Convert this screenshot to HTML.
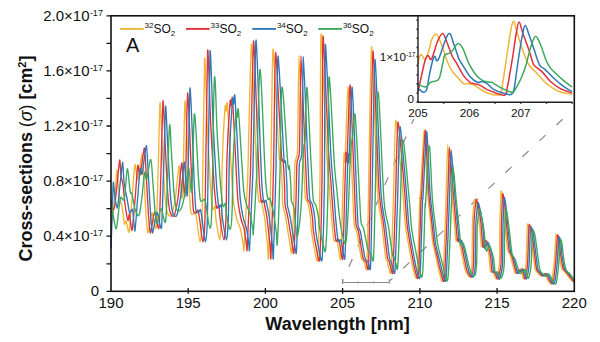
<!DOCTYPE html><html><head><meta charset="utf-8"><style>html,body{margin:0;padding:0;background:#fff;width:600px;height:342px;overflow:hidden}svg{display:block}</style></head><body><svg width="600" height="342" viewBox="0 0 600 342"><g stroke="#8a8a8a" stroke-width="1.2" fill="none"><line x1="342.5" y1="281.4" x2="413.8" y2="119.0" stroke-dasharray="8.5 13.8" stroke-dashoffset="6.3"/><line x1="389.2" y1="281.4" x2="562.6" y2="119.2" stroke-dasharray="8.5 14.8" stroke-dashoffset="4"/><path d="M342.5,282.5 H389.2 M342.5,279 V284 M389.2,279 V284 M358,281.5 V283.5 M373.7,281.5 V283.5" stroke-width="1"/></g><g fill="none" stroke-width="1.35" stroke-linejoin="round" stroke-linecap="round"><path d="M111.0,228.0 C111.2,226.2 113.1,213.2 113.5,210.0 C113.9,206.8 114.7,200.0 115.0,196.0 C115.3,192.0 116.5,170.8 116.8,170.0 C117.1,169.2 118.2,185.0 118.5,188.0 C118.8,191.0 119.7,198.2 120.0,200.0 C120.3,201.8 121.6,203.6 122.0,206.0 C122.4,208.4 124.0,222.5 124.4,224.0 C124.8,225.5 125.6,220.2 126.1,221.0 C126.6,221.8 128.5,233.8 129.0,232.2 C129.5,230.6 130.9,211.8 131.5,205.0 C132.1,198.2 134.3,167.2 134.9,164.7 C135.5,162.2 136.9,180.9 137.6,179.9 C138.3,178.8 141.5,153.6 142.2,154.0 C142.9,154.4 143.8,177.2 144.2,183.4 C144.6,189.6 145.7,211.1 146.1,216.1 C146.5,221.0 147.5,233.3 148.0,233.0 C148.6,232.7 151.1,213.3 151.9,212.8 C152.7,212.2 155.5,232.1 156.2,228.0 C156.8,223.8 157.7,183.7 158.1,171.2 C158.5,158.7 159.6,106.0 160.0,103.0 C160.4,100.0 161.6,132.9 162.0,141.6 C162.5,150.4 164.1,183.7 164.6,190.7 C165.1,197.8 166.4,209.7 167.1,212.2 C167.8,214.7 170.4,217.3 171.2,216.0 C172.0,214.7 174.6,202.5 175.2,198.9 C175.9,195.3 176.9,183.3 177.3,180.0 C177.7,176.7 178.7,166.1 179.0,165.9 C179.3,165.8 180.0,175.2 180.3,178.5 C180.6,181.7 181.8,199.1 182.1,198.6 C182.3,198.0 182.9,182.9 183.2,173.2 C183.5,163.4 184.5,102.9 185.0,101.0 C185.5,99.1 187.4,146.0 187.8,154.6 C188.3,163.1 188.8,180.9 189.1,186.7 C189.4,192.4 190.4,209.5 190.8,212.2 C191.2,215.0 192.8,214.3 193.2,214.2 C193.7,214.1 194.8,210.9 195.2,211.4 C195.5,211.9 196.2,216.0 196.7,219.0 C197.1,222.1 199.4,242.0 199.9,242.0 C200.4,242.0 201.6,237.4 202.1,219.1 C202.5,200.8 204.1,68.4 204.6,59.0 C205.1,49.6 206.7,113.2 207.2,125.0 C207.8,136.9 209.6,171.0 210.0,177.7 C210.3,184.4 210.6,188.9 210.9,192.1 C211.2,195.2 212.3,207.9 212.7,209.3 C213.1,210.7 214.7,205.4 215.0,206.4 C215.3,207.4 215.5,215.5 215.9,218.9 C216.4,222.2 219.0,240.0 219.6,240.0 C220.1,240.0 221.1,226.8 221.4,218.9 C221.7,210.9 221.9,171.9 222.3,160.7 C222.7,149.4 224.7,111.6 225.1,106.6 C225.5,101.7 226.0,111.3 226.2,111.0 C226.4,110.8 226.9,98.1 227.4,104.0 C227.9,109.9 230.7,159.7 231.3,169.6 C231.9,179.4 233.0,197.3 233.6,202.4 C234.1,207.4 236.3,217.1 237.0,219.8 C237.7,222.4 239.8,225.9 240.4,228.5 C241.1,231.0 242.9,243.1 243.3,245.1 C243.7,247.1 243.7,254.5 244.1,248.5 C244.5,242.5 246.9,192.8 247.3,185.2 C247.7,177.6 247.4,186.5 247.9,172.4 C248.3,158.3 250.6,46.2 251.4,44.0 C252.2,41.8 255.1,136.8 255.7,150.8 C256.3,164.9 256.8,179.3 257.2,184.4 C257.5,189.5 258.8,200.6 259.2,202.2 C259.6,203.7 260.8,199.5 261.1,200.0 C261.5,200.5 262.2,205.1 262.6,206.9 C262.9,208.7 264.1,214.0 264.6,217.8 C265.1,221.6 267.1,241.0 267.5,244.9 C267.9,248.8 268.1,264.6 268.5,257.0 C268.8,249.4 270.5,189.6 270.9,168.8 C271.4,148.0 272.2,50.4 273.0,49.0 C273.8,47.6 278.3,143.8 279.0,154.8 C279.8,165.8 280.3,156.1 280.6,158.9 C280.9,161.8 281.9,178.8 282.1,183.3 C282.3,187.7 282.5,201.0 282.6,203.5 C282.8,206.0 283.3,207.2 283.6,208.6 C284.0,210.0 285.1,214.3 285.7,217.7 C286.3,221.2 289.2,239.5 289.8,242.9 C290.4,246.4 291.4,256.8 291.8,252.5 C292.2,248.2 293.6,208.9 293.9,199.9 C294.2,191.0 294.6,167.9 294.9,162.9 C295.3,157.9 297.1,160.8 297.5,150.1 C297.9,139.4 298.4,56.0 299.0,56.0 C299.6,56.0 302.4,137.2 303.0,150.0 C303.6,162.8 304.2,179.1 304.5,183.9 C304.8,188.8 305.1,197.0 305.5,198.9 C305.9,200.9 307.5,201.5 308.0,203.4 C308.5,205.3 310.2,215.2 310.5,217.8 C310.8,220.5 310.9,226.7 311.3,229.9 C311.7,233.1 314.1,247.0 314.7,249.9 C315.3,252.9 317.2,266.3 317.7,259.2 C318.2,252.1 319.7,201.9 320.0,179.3 C320.3,156.8 320.4,37.0 321.0,34.0 C321.6,31.0 325.7,134.5 326.5,149.5 C327.3,164.4 328.5,176.9 329.0,183.8 C329.5,190.6 331.0,212.3 331.5,218.0 C332.0,223.6 333.4,238.4 334.0,240.6 C334.6,242.8 336.3,238.1 337.0,240.0 C337.7,241.8 340.1,262.9 340.7,258.9 C341.2,254.9 342.2,210.9 342.5,200.4 C342.8,189.9 343.8,157.8 344.0,153.9 C344.2,149.9 344.6,167.6 345.0,160.9 C345.4,154.2 347.4,88.0 348.0,87.0 C348.6,86.0 350.6,140.5 351.1,150.8 C351.5,161.2 352.3,183.0 352.6,190.4 C352.9,197.7 353.7,220.0 354.1,224.1 C354.5,228.2 356.0,228.1 356.7,231.5 C357.4,234.9 360.5,254.9 361.3,257.9 C362.0,261.0 363.8,261.0 364.4,261.9 C364.9,262.9 366.5,274.1 366.9,267.8 C367.3,261.5 368.0,221.0 368.4,198.9 C368.9,176.8 370.6,47.7 371.5,46.7 C372.4,45.7 376.3,170.9 377.3,188.6 C378.4,206.2 380.9,216.3 381.7,223.3 C382.5,230.2 385.1,254.1 385.6,257.8 C386.1,261.6 386.7,259.8 387.1,260.9 C387.4,261.9 388.6,267.5 389.0,268.5 C389.4,269.5 390.5,277.9 390.9,271.0 C391.4,264.1 392.9,214.2 393.4,199.1 C393.9,184.1 394.9,121.3 395.8,120.3 C396.7,119.3 401.6,178.9 402.6,189.3 C403.5,199.6 404.5,217.7 405.2,223.6 C405.8,229.6 408.5,244.2 409.3,248.8 C410.2,253.5 412.7,267.2 413.5,270.0 C414.3,272.7 416.5,283.2 417.1,276.2 C417.8,269.2 419.4,207.8 419.7,199.9 C420.0,191.9 419.8,203.3 420.2,196.4 C420.7,189.4 423.5,131.0 424.2,130.3 C424.9,129.6 426.7,180.4 427.3,189.8 C428.0,199.1 430.2,218.5 430.7,223.7 C431.3,229.0 432.1,238.9 432.7,242.3 C433.2,245.7 435.4,254.7 436.1,257.8 C436.8,260.9 438.8,270.9 439.5,272.9 C440.2,275.0 442.2,287.0 442.9,278.5 C443.6,270.0 445.9,201.8 446.3,188.4 C446.8,175.0 447.3,144.7 447.8,144.7 C448.3,144.7 450.7,180.6 451.3,188.5 C452.0,196.3 453.9,217.9 454.4,223.1 C454.8,228.3 455.6,238.9 455.9,240.4 C456.2,242.0 457.1,238.5 457.4,238.4 C457.7,238.4 458.5,238.7 458.9,240.0 C459.3,241.3 460.7,248.6 461.4,251.7 C462.1,254.8 464.6,268.4 465.4,270.9 C466.3,273.5 469.3,277.7 470.0,277.0 C470.6,276.3 471.7,269.2 472.0,263.9 C472.2,258.6 472.4,228.5 472.5,223.6 C472.6,218.7 472.7,217.0 473.0,214.5 C473.2,212.1 474.4,199.5 474.9,199.0 C475.3,198.5 477.0,206.9 477.5,209.4 C477.9,211.8 479.1,219.7 479.5,223.4 C479.9,227.1 481.0,245.0 481.5,246.6 C482.0,248.2 484.0,240.1 484.5,239.9 C485.0,239.7 486.0,242.8 486.5,244.4 C486.9,246.0 488.6,252.8 488.9,255.5 C489.3,258.2 490.0,269.7 490.4,271.3 C490.8,273.0 492.3,271.1 492.9,271.8 C493.5,272.6 495.8,279.8 496.4,279.0 C497.1,278.2 499.1,269.2 499.4,263.5 C499.8,257.9 499.7,229.5 499.9,222.2 C500.1,215.0 500.8,193.5 501.1,191.3 C501.4,189.1 502.5,197.5 502.9,200.6 C503.3,203.7 504.5,217.4 504.9,222.3 C505.4,227.2 506.9,245.9 507.4,249.1 C508.0,252.4 509.5,252.8 510.2,255.2 C511.0,257.5 514.2,271.4 515.0,272.9 C515.7,274.3 517.5,269.9 518.0,269.8 C518.4,269.6 519.2,271.4 519.5,271.3 C519.8,271.2 520.6,268.0 521.0,268.8 C521.4,269.5 523.0,279.2 523.5,279.0 C524.0,278.8 525.5,269.3 525.8,266.8 C526.1,264.2 526.3,257.7 526.5,253.5 C526.7,249.3 527.1,226.9 527.5,224.5 C527.9,222.1 529.5,226.2 530.0,229.1 C530.5,232.0 532.5,249.6 533.0,253.6 C533.5,257.5 534.5,266.9 535.0,268.8 C535.5,270.7 536.9,271.7 537.5,272.4 C538.1,273.1 540.3,275.8 541.0,275.9 C541.7,276.0 543.8,272.9 544.5,273.4 C545.2,273.8 547.3,279.5 548.0,280.5 C548.7,281.5 550.9,285.2 551.5,283.5 C552.1,281.8 553.5,268.6 554.0,263.8 C554.5,258.9 555.6,237.4 556.0,235.0 C556.4,232.6 557.4,237.7 557.7,239.6 C558.0,241.4 558.6,250.9 559.0,253.7 C559.4,256.5 560.9,265.9 561.5,267.9 C562.1,269.8 564.5,271.7 565.5,272.9 C566.5,274.1 570.3,279.1 571.0,280.0 C571.7,280.8 572.5,281.3 572.8,281.5 C573.1,281.7 574.1,281.5 574.3,281.5" stroke="#EFB635"/><path d="M111.2,212.0 C111.5,211.5 113.9,209.7 114.5,207.0 C115.1,204.3 116.5,189.7 117.0,185.0 C117.5,180.3 119.3,160.9 119.7,160.0 C120.1,159.1 120.7,173.5 121.0,176.0 C121.3,178.5 122.6,182.2 123.0,185.0 C123.4,187.8 124.5,200.4 125.0,204.0 C125.5,207.6 127.5,219.5 128.0,220.5 C128.4,221.5 129.1,213.0 129.5,214.0 C129.9,215.0 131.4,231.9 132.0,230.5 C132.6,229.1 134.4,206.5 135.0,200.0 C135.6,193.5 137.3,168.0 137.8,165.5 C138.3,163.0 139.3,176.8 140.0,175.0 C140.7,173.2 143.8,147.5 144.4,148.0 C145.1,148.5 146.1,173.3 146.5,180.0 C146.9,186.7 148.1,209.7 148.5,215.0 C148.9,220.3 149.9,233.3 150.5,233.0 C151.1,232.7 153.7,212.5 154.5,212.0 C155.3,211.5 158.3,232.2 159.0,228.0 C159.7,223.8 160.6,182.7 161.0,170.0 C161.4,157.3 162.6,104.0 163.0,101.0 C163.4,98.0 164.6,131.1 165.0,140.0 C165.4,148.9 167.0,182.8 167.5,190.0 C168.0,197.2 169.3,209.4 170.0,212.0 C170.7,214.6 173.2,217.4 174.0,216.0 C174.8,214.6 177.4,201.8 178.0,198.0 C178.6,194.2 179.6,181.5 180.0,178.0 C180.4,174.5 181.4,163.2 181.7,163.0 C182.0,162.8 182.7,172.6 183.0,176.0 C183.3,179.4 184.4,197.6 184.7,197.0 C185.0,196.4 185.5,180.4 185.8,170.0 C186.1,159.6 187.1,95.0 187.6,93.0 C188.1,91.0 190.1,140.9 190.5,150.0 C190.9,159.1 191.5,177.9 191.8,184.0 C192.1,190.1 193.1,208.1 193.5,211.0 C193.9,213.9 195.6,213.1 196.0,213.0 C196.4,212.9 197.7,209.5 198.0,210.0 C198.3,210.5 199.0,214.8 199.5,218.0 C200.0,221.2 202.2,242.0 202.8,242.0 C203.4,242.0 204.5,237.1 205.0,218.0 C205.5,198.9 207.0,60.8 207.6,51.0 C208.2,41.2 209.9,107.6 210.5,120.0 C211.1,132.4 213.1,168.0 213.5,175.0 C213.9,182.0 214.2,186.7 214.5,190.0 C214.8,193.3 216.1,206.5 216.5,208.0 C216.9,209.5 218.7,204.0 219.0,205.0 C219.3,206.0 219.5,214.5 220.0,218.0 C220.5,221.5 223.4,240.0 224.0,240.0 C224.6,240.0 225.7,226.2 226.0,218.0 C226.3,209.8 226.6,169.2 227.0,157.5 C227.4,145.8 229.7,106.6 230.1,101.4 C230.5,96.2 231.1,106.3 231.3,106.0 C231.6,105.7 232.1,92.6 232.6,98.7 C233.1,104.8 235.5,156.8 236.0,167.0 C236.5,177.2 237.5,195.8 238.0,201.0 C238.5,206.2 240.4,216.3 241.0,219.0 C241.6,221.7 243.4,225.4 244.0,228.0 C244.6,230.6 246.2,242.9 246.5,245.0 C246.8,247.1 246.8,254.6 247.2,248.5 C247.5,242.4 249.7,191.8 250.0,184.0 C250.3,176.2 250.1,185.3 250.5,171.0 C250.9,156.7 252.8,43.1 253.6,41.0 C254.3,38.9 257.4,135.7 258.0,150.0 C258.6,164.3 259.1,178.8 259.5,184.0 C259.9,189.2 261.1,200.4 261.5,202.0 C261.9,203.6 263.1,199.5 263.5,200.0 C263.9,200.5 264.6,205.2 265.0,207.0 C265.4,208.8 266.5,214.2 267.0,218.0 C267.5,221.8 269.6,241.1 270.0,245.0 C270.4,248.9 270.6,264.5 271.0,257.0 C271.4,249.5 273.0,190.5 273.5,170.0 C274.0,149.5 274.8,53.8 275.6,52.4 C276.4,51.0 280.8,145.2 281.5,156.0 C282.2,166.8 282.7,157.2 283.0,160.0 C283.3,162.8 284.3,179.6 284.5,184.0 C284.7,188.4 284.9,201.5 285.0,204.0 C285.1,206.5 285.7,207.6 286.0,209.0 C286.3,210.4 287.4,214.6 288.0,218.0 C288.6,221.4 291.4,239.6 292.0,243.0 C292.6,246.4 293.6,256.8 294.0,252.5 C294.4,248.2 295.7,208.9 296.0,200.0 C296.3,191.1 296.6,168.0 297.0,163.0 C297.4,158.0 299.1,160.7 299.5,150.0 C299.9,139.3 300.4,55.6 301.0,55.6 C301.6,55.6 304.4,137.2 305.0,150.0 C305.6,162.8 306.2,179.1 306.5,184.0 C306.8,188.9 307.1,197.1 307.5,199.0 C307.9,200.9 309.5,201.6 310.0,203.5 C310.5,205.4 312.2,215.3 312.5,218.0 C312.8,220.7 312.9,226.8 313.3,230.0 C313.7,233.2 316.1,247.1 316.7,250.0 C317.3,252.9 319.2,266.2 319.7,259.2 C320.2,252.2 321.7,202.3 322.0,180.0 C322.3,157.7 322.4,39.0 323.0,36.0 C323.6,33.0 327.7,135.2 328.5,150.0 C329.3,164.8 330.5,177.2 331.0,184.0 C331.5,190.8 333.0,212.3 333.5,218.0 C334.0,223.7 335.4,238.4 336.0,240.6 C336.6,242.8 338.3,238.1 339.0,239.9 C339.7,241.7 342.1,262.9 342.7,258.9 C343.2,254.9 344.2,210.6 344.5,200.0 C344.8,189.4 345.8,157.0 346.0,153.0 C346.2,149.0 346.6,166.8 347.0,160.0 C347.4,153.2 349.4,86.0 350.0,85.0 C350.6,84.0 352.6,139.5 353.0,150.0 C353.4,160.5 354.2,182.6 354.5,190.0 C354.8,197.4 355.6,219.8 356.0,224.0 C356.4,228.2 357.8,228.1 358.5,231.5 C359.2,234.9 362.2,254.9 363.0,258.0 C363.8,261.1 365.4,261.0 366.0,262.0 C366.6,263.0 368.1,274.0 368.5,267.8 C368.9,261.6 369.6,221.7 370.0,200.0 C370.4,178.3 372.1,52.0 373.0,51.0 C373.9,50.0 377.9,172.7 379.0,190.0 C380.1,207.3 382.6,217.2 383.5,224.0 C384.4,230.8 386.9,254.3 387.5,258.0 C388.1,261.7 388.6,259.9 389.0,261.0 C389.4,262.1 390.6,267.5 391.0,268.5 C391.4,269.5 392.6,277.9 393.0,271.0 C393.4,264.1 395.0,214.9 395.5,200.0 C396.0,185.1 397.1,123.0 398.0,122.0 C398.9,121.0 403.6,179.8 404.5,190.0 C405.4,200.2 406.4,218.1 407.0,224.0 C407.6,229.9 410.2,244.4 411.0,249.0 C411.8,253.6 414.2,267.3 415.0,270.0 C415.8,272.7 417.9,283.2 418.5,276.2 C419.1,269.2 420.7,208.0 421.0,200.0 C421.3,192.0 421.1,203.5 421.5,196.5 C421.9,189.5 424.6,131.0 425.3,130.3 C426.0,129.7 427.8,180.6 428.5,190.0 C429.2,199.4 431.4,218.8 432.0,224.0 C432.6,229.2 433.4,239.1 434.0,242.5 C434.6,245.9 436.8,254.9 437.5,258.0 C438.2,261.1 440.3,270.9 441.0,273.0 C441.7,275.1 443.8,286.8 444.5,278.5 C445.2,270.2 447.5,203.1 448.0,190.0 C448.5,176.9 449.0,147.2 449.5,147.2 C450.0,147.2 452.4,182.3 453.0,190.0 C453.6,197.7 455.6,218.9 456.0,224.0 C456.4,229.1 457.2,239.5 457.5,241.0 C457.8,242.5 458.7,239.1 459.0,239.0 C459.3,238.9 460.1,239.2 460.5,240.5 C460.9,241.8 462.4,248.9 463.0,252.0 C463.6,255.1 466.1,268.5 467.0,271.0 C467.9,273.5 470.9,277.7 471.5,277.0 C472.1,276.3 473.2,269.3 473.5,264.0 C473.8,258.7 473.9,228.9 474.0,224.0 C474.1,219.1 474.3,217.4 474.5,215.0 C474.7,212.6 475.9,200.0 476.4,199.5 C476.8,199.0 478.5,207.6 479.0,210.0 C479.5,212.4 480.6,220.3 481.0,224.0 C481.4,227.7 482.5,245.3 483.0,247.0 C483.5,248.7 485.5,240.7 486.0,240.5 C486.5,240.3 487.6,243.4 488.0,245.0 C488.4,246.6 490.1,253.3 490.5,256.0 C490.9,258.6 491.6,269.9 492.0,271.5 C492.4,273.1 493.9,271.2 494.5,272.0 C495.1,272.8 497.4,279.8 498.0,279.0 C498.6,278.2 500.6,269.5 501.0,264.0 C501.4,258.5 501.3,231.0 501.5,224.0 C501.7,217.0 502.4,196.2 502.7,194.1 C503.0,192.0 504.1,200.0 504.5,203.0 C504.9,206.0 506.1,219.3 506.5,224.0 C506.9,228.7 508.5,246.8 509.0,250.0 C509.5,253.2 511.1,253.5 511.8,255.8 C512.5,258.1 515.7,271.6 516.5,273.0 C517.3,274.4 519.0,270.1 519.5,270.0 C520.0,269.9 520.7,271.6 521.0,271.5 C521.3,271.4 522.1,268.2 522.5,269.0 C522.9,269.8 524.5,279.2 525.0,279.0 C525.5,278.8 527.0,269.5 527.3,267.0 C527.6,264.5 527.8,258.1 528.0,254.0 C528.2,249.8 528.6,227.9 529.0,225.5 C529.4,223.1 531.0,227.2 531.5,230.0 C532.0,232.8 534.0,250.1 534.5,254.0 C535.0,257.9 536.0,267.1 536.5,269.0 C537.0,270.9 538.4,271.8 539.0,272.5 C539.6,273.2 541.8,275.9 542.5,276.0 C543.2,276.1 545.3,273.1 546.0,273.5 C546.7,273.9 548.8,279.5 549.5,280.5 C550.2,281.5 552.4,285.1 553.0,283.5 C553.6,281.9 555.0,268.8 555.5,264.0 C556.0,259.2 557.1,237.9 557.5,235.5 C557.9,233.1 558.9,238.2 559.2,240.0 C559.5,241.8 560.1,251.2 560.5,254.0 C560.9,256.8 562.4,266.1 563.0,268.0 C563.6,269.9 566.0,271.8 567.0,273.0 C568.0,274.2 571.8,279.1 572.5,280.0 C573.2,280.9 574.1,281.4 574.3,281.5" stroke="#E0303A"/><path d="M111.0,248.0 C111.1,244.7 112.0,221.6 112.2,215.0 C112.4,208.4 113.0,183.9 113.3,182.2 C113.6,180.5 114.6,195.4 115.0,198.0 C115.4,200.6 117.0,208.8 117.4,208.0 C117.9,207.2 119.0,194.6 119.5,190.0 C120.0,185.4 122.1,163.1 122.6,162.3 C123.0,161.5 123.5,178.2 124.0,182.0 C124.5,185.8 126.7,196.9 127.3,200.0 C127.9,203.1 129.1,212.0 129.6,212.9 C130.1,213.8 132.1,207.6 132.6,209.4 C133.1,211.2 134.4,231.9 134.9,231.0 C135.4,230.1 137.0,206.2 137.5,200.0 C138.0,193.8 139.7,171.4 140.2,168.8 C140.7,166.2 141.5,176.3 142.1,174.0 C142.8,171.7 145.8,145.1 146.4,145.6 C147.0,146.1 148.1,172.0 148.6,178.9 C149.0,185.8 150.2,209.4 150.6,214.8 C151.0,220.2 152.1,233.3 152.7,233.0 C153.3,232.7 156.0,212.7 156.8,212.2 C157.7,211.7 160.8,232.0 161.5,228.0 C162.1,223.9 163.1,184.2 163.5,172.0 C164.0,159.8 165.2,109.3 165.6,106.4 C166.0,103.5 167.1,134.6 167.6,143.1 C168.0,151.5 169.6,184.0 170.1,190.9 C170.6,197.8 171.9,209.6 172.5,212.1 C173.2,214.7 175.7,217.4 176.5,216.0 C177.3,214.6 179.9,201.7 180.5,197.9 C181.1,194.0 182.1,181.1 182.5,177.5 C182.8,173.9 183.9,162.2 184.2,161.9 C184.4,161.7 185.1,171.5 185.4,174.9 C185.7,178.4 186.8,196.9 187.1,196.2 C187.4,195.5 187.9,179.1 188.2,168.2 C188.5,157.4 189.5,90.1 190.0,88.0 C190.5,85.9 192.5,138.0 192.9,147.5 C193.3,156.9 193.9,176.3 194.2,182.6 C194.5,188.9 195.5,207.4 195.9,210.4 C196.3,213.4 198.0,212.6 198.4,212.5 C198.8,212.5 200.1,209.0 200.4,209.6 C200.8,210.1 201.4,214.5 201.9,217.7 C202.4,221.0 204.6,242.0 205.2,242.0 C205.8,242.0 206.9,237.0 207.4,217.9 C207.9,198.9 209.4,61.4 210.0,51.6 C210.6,41.8 212.3,107.8 212.9,120.1 C213.5,132.4 215.5,167.9 215.9,174.9 C216.3,181.9 216.6,186.6 216.9,189.9 C217.2,193.2 218.5,206.4 218.9,207.9 C219.3,209.4 221.1,203.8 221.4,204.8 C221.8,205.8 221.9,214.3 222.4,217.9 C222.9,221.4 225.8,240.0 226.4,240.0 C227.0,240.0 228.1,226.1 228.4,217.8 C228.7,209.4 229.0,168.4 229.4,156.5 C229.8,144.7 232.1,104.7 232.5,99.4 C232.9,94.2 233.4,104.3 233.7,104.0 C233.9,103.7 234.5,90.2 235.0,96.4 C235.5,102.6 237.9,155.5 238.4,165.9 C238.9,176.3 239.9,195.1 240.4,200.4 C240.9,205.7 242.8,216.0 243.4,218.7 C244.0,221.4 245.8,225.2 246.4,227.8 C247.0,230.4 248.6,242.9 248.9,245.0 C249.2,247.0 249.2,254.6 249.6,248.5 C249.9,242.4 252.1,191.4 252.4,183.6 C252.7,175.8 252.5,184.9 252.9,170.5 C253.3,156.1 255.2,42.1 256.0,40.0 C256.8,37.9 259.8,135.6 260.4,150.0 C261.0,164.4 261.5,178.9 261.9,184.1 C262.2,189.3 263.5,200.5 263.9,202.2 C264.3,203.8 265.5,199.8 265.9,200.3 C266.2,200.8 267.0,205.5 267.4,207.3 C267.8,209.1 268.9,214.5 269.4,218.3 C269.9,222.1 272.0,241.3 272.4,245.1 C272.8,249.0 273.0,264.4 273.4,257.0 C273.8,249.6 275.4,191.4 275.9,171.3 C276.4,151.2 277.2,57.4 278.0,56.0 C278.8,54.6 283.2,147.0 283.9,157.5 C284.6,168.0 285.1,158.6 285.4,161.4 C285.7,164.1 286.7,180.6 286.9,185.0 C287.1,189.3 287.2,202.2 287.4,204.7 C287.5,207.2 288.1,208.2 288.4,209.6 C288.7,211.0 289.8,215.1 290.4,218.4 C291.0,221.8 293.8,239.7 294.4,243.1 C295.0,246.5 296.0,256.8 296.4,252.5 C296.8,248.2 298.1,209.4 298.4,200.5 C298.7,191.6 299.0,168.8 299.4,163.8 C299.8,158.8 301.5,161.5 301.9,150.8 C302.3,140.1 302.8,56.9 303.4,57.0 C303.9,57.1 306.8,138.5 307.4,151.3 C307.9,164.1 308.6,180.2 308.9,185.1 C309.1,189.9 309.5,198.0 309.9,199.9 C310.2,201.9 311.9,202.6 312.4,204.5 C312.9,206.4 314.6,216.3 314.9,218.9 C315.2,221.5 315.3,227.5 315.7,230.7 C316.1,233.8 318.5,247.4 319.1,250.2 C319.7,253.1 321.6,265.9 322.1,259.2 C322.6,252.5 324.1,204.3 324.4,182.9 C324.7,161.4 324.8,47.3 325.4,44.4 C326.0,41.5 330.0,139.3 330.8,153.5 C331.6,167.7 332.8,179.7 333.3,186.2 C333.8,192.8 335.2,213.6 335.7,219.1 C336.2,224.6 337.7,238.9 338.2,241.1 C338.8,243.2 340.5,238.5 341.2,240.3 C341.8,242.1 344.3,262.8 344.8,258.9 C345.4,255.0 346.3,211.4 346.6,201.0 C346.9,190.6 347.8,158.6 348.1,154.6 C348.3,150.7 348.6,168.2 349.0,161.4 C349.4,154.7 351.4,88.0 352.0,87.0 C352.6,86.0 354.6,141.3 355.0,151.7 C355.4,162.1 356.2,183.9 356.5,191.2 C356.8,198.5 357.6,220.6 358.0,224.7 C358.4,228.8 359.8,228.9 360.5,232.2 C361.2,235.6 364.2,255.2 365.0,258.2 C365.8,261.2 367.4,261.2 368.0,262.1 C368.6,263.1 370.1,273.8 370.5,267.8 C370.9,261.8 371.6,223.3 372.0,202.4 C372.4,181.6 374.1,60.5 375.0,59.6 C375.9,58.7 379.9,176.4 381.0,193.0 C382.1,209.6 384.6,219.1 385.5,225.7 C386.4,232.2 388.9,254.9 389.5,258.4 C390.1,262.0 390.6,260.3 391.0,261.3 C391.4,262.3 392.6,267.6 393.0,268.6 C393.4,269.5 394.6,277.6 395.0,271.0 C395.4,264.4 397.0,216.7 397.5,202.3 C398.0,187.9 399.1,127.7 400.0,126.7 C400.9,125.7 405.5,182.3 406.4,192.2 C407.2,202.0 408.2,219.5 408.8,225.2 C409.4,230.9 411.9,245.0 412.7,249.5 C413.5,254.0 415.9,267.4 416.6,270.1 C417.4,272.8 419.5,283.1 420.1,276.2 C420.6,269.3 422.2,208.9 422.5,201.0 C422.8,193.1 422.6,204.4 423.0,197.5 C423.4,190.6 426.0,132.4 426.7,131.7 C427.4,131.0 429.3,181.7 429.9,191.0 C430.6,200.3 432.9,219.5 433.5,224.7 C434.0,229.9 435.0,239.6 435.5,243.0 C436.1,246.3 438.3,255.3 439.1,258.3 C439.8,261.3 441.9,271.1 442.6,273.1 C443.3,275.1 445.4,286.6 446.1,278.5 C446.8,270.4 449.2,204.7 449.7,191.8 C450.2,179.0 450.7,150.0 451.2,150.0 C451.7,150.0 454.1,184.6 454.7,192.1 C455.4,199.7 457.3,220.4 457.7,225.4 C458.2,230.4 458.9,240.6 459.2,242.0 C459.5,243.5 460.4,240.2 460.7,240.1 C461.0,240.1 461.8,240.3 462.2,241.6 C462.6,242.9 464.1,249.8 464.8,252.8 C465.4,255.8 467.9,268.8 468.8,271.2 C469.6,273.6 472.6,277.7 473.3,277.0 C473.9,276.3 475.0,269.6 475.3,264.5 C475.5,259.4 475.7,230.8 475.8,226.2 C475.9,221.5 476.0,219.9 476.3,217.5 C476.5,215.2 477.8,203.3 478.2,202.8 C478.6,202.3 480.3,210.5 480.8,212.9 C481.2,215.2 482.4,222.7 482.8,226.3 C483.1,229.8 484.2,246.7 484.7,248.3 C485.2,249.9 487.2,242.3 487.7,242.1 C488.2,241.9 489.2,244.9 489.7,246.4 C490.1,247.9 491.7,254.4 492.1,257.0 C492.5,259.5 493.2,270.3 493.6,271.8 C494.0,273.3 495.5,271.6 496.1,272.3 C496.7,273.0 498.9,279.8 499.6,279.0 C500.2,278.2 502.2,269.9 502.5,264.6 C502.9,259.4 502.8,233.1 503.0,226.4 C503.2,219.7 503.9,199.8 504.2,197.8 C504.5,195.8 505.6,203.4 506.0,206.3 C506.4,209.1 507.6,221.8 508.0,226.3 C508.4,230.8 510.0,248.2 510.5,251.2 C511.0,254.3 512.5,254.6 513.3,256.8 C514.0,259.0 517.2,271.9 518.0,273.2 C518.8,274.6 520.5,270.5 521.0,270.4 C521.5,270.2 522.2,271.9 522.5,271.8 C522.8,271.7 523.6,268.7 524.0,269.4 C524.4,270.1 526.0,279.2 526.5,279.0 C527.0,278.8 528.5,269.9 528.8,267.5 C529.1,265.1 529.3,258.9 529.5,254.9 C529.7,251.0 530.1,229.8 530.5,227.5 C530.9,225.2 532.5,229.1 533.0,231.9 C533.5,234.6 535.5,251.3 536.0,255.0 C536.5,258.8 537.5,267.7 538.0,269.4 C538.5,271.2 539.9,272.2 540.5,272.8 C541.1,273.5 543.3,276.1 544.0,276.2 C544.7,276.3 546.8,273.4 547.5,273.9 C548.2,274.3 550.3,279.6 551.0,280.6 C551.7,281.6 553.9,285.1 554.5,283.5 C555.1,281.9 556.5,269.4 557.0,264.8 C557.5,260.2 558.6,239.8 559.0,237.5 C559.4,235.2 560.4,240.0 560.7,241.8 C561.0,243.6 561.6,252.5 562.0,255.2 C562.4,257.9 563.9,266.8 564.5,268.6 C565.1,270.4 567.5,272.2 568.5,273.4 C569.5,274.5 573.4,279.3 574.0,280.1 C574.6,280.9 574.3,281.4 574.3,281.5" stroke="#2F78B8"/><path d="M111.0,200.0 C111.3,201.9 111.9,207.1 112.7,211.7 C113.5,216.3 115.2,229.5 116.2,228.7 C117.2,227.9 118.3,212.0 119.1,207.0 C119.9,202.0 120.1,198.7 120.9,197.4 C121.7,196.1 123.4,203.2 124.4,198.6 C125.4,194.0 126.4,169.9 127.3,168.8 C128.2,167.7 129.4,187.7 130.2,191.6 C131.0,195.5 131.5,192.0 132.0,193.3 C132.5,194.6 132.5,197.2 133.1,200.0 C133.7,202.8 134.6,208.1 135.5,210.5 C136.4,212.9 138.0,217.3 139.0,215.2 C140.0,213.1 141.0,204.2 141.9,197.4 C142.8,190.6 143.8,175.5 144.6,172.6 C145.3,169.7 145.7,181.3 146.7,179.2 C147.6,177.1 149.8,158.8 150.8,159.5 C151.8,160.2 152.3,175.3 152.9,183.3 C153.6,191.3 154.3,203.1 154.9,209.6 C155.6,216.0 156.0,223.7 157.0,223.6 C157.9,223.5 159.6,209.0 161.0,208.7 C162.4,208.4 164.5,226.5 165.6,221.6 C166.6,216.6 166.9,193.2 167.6,177.8 C168.2,162.3 169.0,128.6 169.6,125.0 C170.2,121.4 170.9,144.4 171.6,155.5 C172.3,166.6 173.3,185.6 174.1,194.2 C174.9,202.8 175.6,206.8 176.7,209.3 C177.7,211.7 179.4,211.8 180.7,209.5 C182.0,207.2 183.8,199.6 184.7,194.8 C185.7,189.9 186.1,183.5 186.7,179.2 C187.3,174.8 188.0,167.9 188.4,167.5 C188.9,167.1 189.3,173.0 189.8,176.9 C190.2,180.8 191.0,193.0 191.5,192.2 C191.9,191.3 192.1,184.2 192.6,171.7 C193.1,159.2 193.6,116.7 194.4,114.0 C195.2,111.3 196.6,144.5 197.3,155.0 C198.0,165.6 198.1,172.9 198.6,180.0 C199.1,187.2 199.6,196.5 200.3,199.8 C201.0,203.1 202.1,200.5 202.8,200.4 C203.5,200.4 204.2,198.4 204.8,199.4 C205.4,200.3 205.5,202.0 206.3,206.5 C207.1,210.9 208.7,226.7 209.6,227.2 C210.5,227.7 211.0,233.2 211.8,209.4 C212.6,185.6 213.5,90.7 214.4,78.6 C215.3,66.5 216.3,117.9 217.2,133.9 C218.1,150.0 219.5,169.5 220.1,178.6 C220.7,187.8 220.6,186.6 221.1,190.9 C221.5,195.3 222.3,204.1 223.0,206.1 C223.7,208.1 224.9,202.3 225.4,203.4 C225.9,204.6 225.6,209.3 226.3,213.4 C227.1,217.5 229.3,229.7 230.2,229.3 C231.1,228.9 231.7,221.7 232.1,210.8 C232.6,200.0 232.5,176.9 233.1,161.4 C233.7,146.0 235.4,121.5 236.1,114.5 C236.8,107.4 236.9,118.2 237.2,117.6 C237.6,117.0 237.7,103.3 238.5,111.0 C239.3,118.7 241.1,152.7 242.0,165.8 C242.9,178.9 243.2,186.3 244.0,192.8 C244.8,199.3 246.1,202.9 247.1,206.3 C248.1,209.8 249.3,210.8 250.2,214.3 C251.1,217.9 252.2,225.8 252.7,228.6 C253.3,231.3 252.9,239.2 253.4,231.6 C254.0,224.0 255.8,190.8 256.3,181.1 C256.9,171.4 256.2,188.8 256.8,171.0 C257.4,153.1 258.8,71.8 260.0,69.6 C261.2,67.4 263.5,138.9 264.4,157.3 C265.3,175.6 265.3,177.7 265.9,184.4 C266.5,191.0 267.3,196.8 267.9,199.0 C268.5,201.2 269.3,197.4 269.9,198.2 C270.5,198.9 270.8,201.6 271.4,203.9 C272.0,206.2 272.6,207.8 273.4,212.4 C274.2,217.1 275.8,228.3 276.4,233.1 C277.0,237.8 276.8,251.3 277.4,242.2 C278.0,233.0 279.2,200.6 279.9,175.8 C280.6,151.0 280.7,88.9 282.0,87.0 C283.3,85.1 286.6,151.0 287.8,163.7 C289.0,176.4 288.8,163.0 289.3,166.3 C289.8,169.6 290.4,178.9 290.8,184.2 C291.1,189.5 291.0,196.3 291.2,199.3 C291.5,202.3 291.8,201.3 292.2,202.9 C292.7,204.6 293.5,204.2 294.2,209.5 C294.9,214.7 295.9,233.2 296.7,235.8 C297.5,238.4 298.4,231.5 299.2,225.8 C300.0,220.1 300.9,210.5 301.5,200.0 C302.1,189.5 302.6,168.8 303.0,160.0 C303.4,151.2 303.6,148.5 304.0,145.0 C304.4,141.5 304.7,147.2 305.2,138.0 C305.7,128.8 306.1,83.7 307.0,87.6 C307.9,91.5 310.1,146.0 311.0,162.3 C311.9,178.5 312.1,182.9 312.5,189.2 C312.9,195.4 312.9,198.5 313.5,201.1 C314.1,203.7 315.2,202.9 316.0,205.6 C316.8,208.2 318.0,214.2 318.5,217.7 C319.0,221.2 318.6,223.3 319.3,227.2 C320.0,231.2 321.7,238.7 322.7,242.2 C323.7,245.6 324.9,257.4 325.7,248.6 C326.5,239.9 327.5,214.9 328.0,187.4 C328.5,159.9 328.0,80.9 329.0,77.0 C330.0,73.1 333.1,145.1 334.3,162.9 C335.5,180.7 335.9,180.2 336.7,188.3 C337.5,196.4 338.3,206.9 339.1,213.6 C339.9,220.3 340.5,225.5 341.5,230.3 C342.6,235.0 344.6,245.9 345.6,243.5 C346.6,241.1 347.3,227.6 348.0,215.0 C348.7,202.4 349.5,176.5 350.0,165.0 C350.5,153.5 351.0,147.5 351.4,143.0 C351.8,138.5 351.9,141.6 352.5,137.0 C353.1,132.4 354.1,110.1 355.0,114.5 C355.9,118.9 357.3,151.7 358.0,164.7 C358.7,177.6 359.0,186.4 359.5,195.5 C360.0,204.7 360.4,216.6 361.0,221.9 C361.6,227.1 362.4,223.8 363.5,228.2 C364.6,232.7 366.8,245.7 368.0,249.7 C369.2,253.8 370.1,252.1 371.0,253.6 C371.9,255.0 372.9,266.1 373.5,258.6 C374.1,251.1 374.3,233.3 375.0,206.6 C375.7,180.0 376.6,93.2 378.0,92.0 C379.4,90.8 382.3,177.6 383.9,199.1 C385.6,220.6 387.1,217.4 388.4,226.2 C389.8,235.0 391.5,249.3 392.4,254.2 C393.3,259.1 393.3,255.4 393.9,256.8 C394.4,258.2 395.2,261.8 395.9,263.2 C396.5,264.6 397.1,274.7 397.8,265.6 C398.6,256.5 399.5,226.4 400.3,206.3 C401.1,186.2 401.4,141.3 402.8,140.0 C404.2,138.7 407.7,184.0 409.1,198.0 C410.5,212.0 410.5,219.1 411.5,227.3 C412.5,235.5 414.1,242.7 415.4,249.2 C416.6,255.7 418.1,263.9 419.2,267.8 C420.4,271.6 421.7,283.1 422.6,273.4 C423.5,263.6 424.6,218.1 425.0,207.0 C425.5,195.9 424.9,213.8 425.5,204.0 C426.2,194.2 428.1,146.6 429.2,145.8 C430.3,145.0 431.3,185.4 432.4,198.7 C433.4,212.0 434.9,221.4 435.8,228.8 C436.7,236.2 436.9,240.2 437.8,245.0 C438.6,249.8 440.1,254.4 441.2,258.7 C442.3,263.0 443.5,268.9 444.6,271.8 C445.7,274.6 447.0,287.7 448.1,276.6 C449.2,265.4 450.7,219.7 451.5,202.0 C452.3,184.4 452.2,166.3 453.0,166.3 C453.8,166.3 455.4,191.8 456.4,202.1 C457.5,212.4 458.7,223.8 459.4,230.7 C460.1,237.5 460.4,243.0 460.9,245.0 C461.4,247.0 461.9,243.3 462.4,243.3 C462.8,243.2 463.2,242.7 463.8,244.5 C464.5,246.3 465.3,250.1 466.3,254.2 C467.3,258.4 468.9,266.9 470.2,270.3 C471.6,273.7 473.6,276.4 474.7,275.5 C475.7,274.5 476.2,271.7 476.6,264.4 C477.0,257.2 477.0,237.0 477.1,230.3 C477.3,223.6 477.3,225.9 477.6,222.6 C478.0,219.2 478.8,209.9 479.5,209.3 C480.2,208.7 481.4,215.3 482.1,218.7 C482.8,222.2 483.5,225.8 484.1,230.9 C484.7,236.0 485.3,248.2 486.1,250.6 C486.9,252.9 488.3,245.6 489.1,245.4 C489.9,245.2 490.4,247.3 491.1,249.4 C491.8,251.5 493.0,255.2 493.6,258.7 C494.2,262.3 494.5,269.4 495.1,271.6 C495.7,273.7 496.6,271.1 497.6,272.1 C498.6,273.1 500.1,278.9 501.1,277.9 C502.1,276.9 503.5,272.9 504.1,265.9 C504.7,258.9 504.3,242.9 504.6,234.0 C504.9,225.1 505.3,213.0 505.8,210.3 C506.3,207.6 507.0,213.3 507.6,217.0 C508.2,220.7 508.9,227.6 509.7,233.5 C510.4,239.5 511.3,250.3 512.2,254.4 C513.1,258.4 513.8,256.0 515.0,259.0 C516.3,262.0 518.6,271.3 519.8,273.1 C521.1,275.0 522.1,270.8 522.9,270.6 C523.6,270.4 523.9,272.0 524.4,271.8 C524.9,271.7 525.3,268.6 525.9,269.7 C526.5,270.7 527.7,278.6 528.4,278.3 C529.2,278.0 530.3,271.4 530.8,267.9 C531.3,264.4 531.2,262.4 531.5,256.6 C531.8,250.7 531.9,234.9 532.5,231.5 C533.1,228.1 534.1,231.5 535.0,235.5 C535.8,239.5 537.1,251.2 537.9,256.7 C538.7,262.2 539.2,267.3 539.9,269.9 C540.6,272.5 541.4,272.1 542.3,273.1 C543.3,274.1 544.7,276.1 545.8,276.3 C546.9,276.4 548.1,273.5 549.2,274.2 C550.3,274.9 551.5,279.0 552.6,280.5 C553.7,281.9 555.1,285.5 556.1,283.2 C557.0,280.9 557.8,272.8 558.5,266.1 C559.2,259.3 559.9,244.4 560.5,241.0 C561.1,237.6 561.7,242.4 562.2,245.0 C562.7,247.6 562.9,253.3 563.5,257.3 C564.1,261.2 565.0,266.9 566.0,269.6 C567.0,272.3 568.7,272.3 570.0,274.0 C571.3,275.7 573.6,279.2 574.3,280.2" stroke="#3BA85C"/></g><rect x="418" y="16" width="156.5" height="86" fill="#fff"/><g fill="none" stroke-width="1.5" stroke-linejoin="round"><path d="M418.0,64.0 C418.3,62.7 418.9,58.7 419.5,57.0 C420.1,55.3 420.3,54.3 421.4,54.7 C422.5,55.1 424.0,60.2 425.4,59.0 C426.8,57.8 428.2,51.9 429.4,48.3 C430.6,44.7 430.7,41.4 432.0,38.8 C433.3,36.2 434.8,33.4 436.4,34.1 C438.0,34.8 439.5,39.6 440.9,42.9 C442.3,46.2 443.1,49.1 444.2,52.3 C445.3,55.4 445.7,57.3 446.9,60.4 C448.1,63.5 449.1,66.3 451.0,69.4 C452.9,72.5 455.4,74.9 457.7,77.5 C460.0,80.1 462.0,82.5 463.7,83.6 C465.4,84.7 465.2,83.4 467.0,83.6 C468.8,83.8 470.9,83.6 473.8,84.9 C476.7,86.2 480.1,89.3 483.2,91.0 C486.3,92.7 488.9,93.6 491.3,94.3 C493.7,95.0 495.0,95.1 496.7,95.0 C498.4,94.9 499.6,95.8 500.7,93.6 C501.8,91.4 502.0,87.3 502.7,82.9 C503.4,78.5 504.1,74.2 504.8,69.4 C505.5,64.6 506.1,60.8 506.8,56.0 C507.5,51.2 508.0,48.2 508.8,42.9 C509.6,37.6 510.6,30.7 511.5,26.8 C512.4,22.9 513.0,20.9 513.8,21.4 C514.6,21.9 514.9,25.2 516.2,29.4 C517.5,33.6 519.3,40.1 520.9,44.9 C522.5,49.7 523.5,52.4 524.9,56.0 C526.3,59.6 526.7,61.6 528.9,64.7 C531.1,67.9 534.1,70.3 537.0,73.5 C539.9,76.7 542.1,79.5 545.0,82.2 C547.9,84.9 550.2,86.5 553.1,88.3 C556.0,90.1 557.8,91.2 561.2,92.3 C564.6,93.4 570.1,93.9 572.0,94.3" stroke="#EFB635"/><path d="M418.0,91.6 C418.7,88.3 420.7,79.3 422.0,73.5 C423.3,67.7 424.3,62.6 425.4,59.4 C426.5,56.2 427.0,55.7 428.1,55.6 C429.2,55.5 429.8,61.5 431.5,59.0 C433.2,56.5 435.5,46.1 437.5,41.5 C439.5,36.9 440.9,33.4 442.6,33.5 C444.3,33.6 445.2,38.1 446.9,42.2 C448.6,46.3 450.6,52.6 452.3,56.3 C454.0,60.0 454.4,59.4 456.3,62.7 C458.2,66.0 460.6,71.3 463.0,74.8 C465.4,78.3 467.9,80.6 469.8,82.2 C471.7,83.8 472.1,83.1 473.8,83.6 C475.5,84.1 476.8,83.8 479.2,84.9 C481.6,86.0 484.5,88.3 487.2,89.6 C489.9,90.9 490.8,91.3 494.0,92.3 C497.2,93.3 502.4,96.0 504.8,95.0 C507.2,94.0 506.4,91.0 507.4,86.9 C508.4,82.8 509.1,77.7 510.1,72.1 C511.1,66.5 511.7,62.9 512.8,56.0 C513.9,49.1 515.1,39.6 516.2,33.5 C517.3,27.4 517.9,22.0 519.1,22.0 C520.3,22.0 521.2,28.8 522.9,33.5 C524.6,38.2 526.6,43.3 528.3,48.3 C530.0,53.2 531.2,57.9 532.3,61.0 C533.4,64.1 532.5,63.4 534.3,65.4 C536.1,67.4 539.5,69.2 542.4,72.1 C545.3,75.0 547.4,78.6 550.5,81.5 C553.6,84.4 556.0,86.2 559.9,88.3 C563.8,90.4 569.8,92.2 572.0,93.0" stroke="#E0303A"/><path d="M418.0,88.3 C419.0,89.0 421.8,92.2 423.4,92.3 C425.0,92.4 425.7,92.2 426.8,89.0 C427.9,85.8 428.3,80.0 429.4,74.8 C430.5,69.6 431.8,63.3 432.8,60.0 C433.8,56.7 433.8,56.4 434.8,56.3 C435.8,56.2 435.8,63.7 438.2,59.7 C440.6,55.7 445.5,37.0 448.3,34.1 C451.1,31.2 451.7,39.1 453.6,43.6 C455.5,48.1 457.4,55.2 459.0,59.0 C460.6,62.8 460.5,61.6 462.4,64.7 C464.3,67.8 467.1,73.0 469.8,76.2 C472.5,79.4 475.0,81.2 477.2,82.2 C479.4,83.2 480.1,81.2 481.9,81.5 C483.7,81.8 485.0,82.1 487.2,83.6 C489.4,85.1 490.8,87.8 494.0,89.6 C497.2,91.4 501.7,92.8 504.8,93.6 C507.9,94.4 509.8,95.3 511.5,94.3 C513.2,93.3 513.4,91.8 514.2,88.3 C515.0,84.8 515.4,80.6 516.2,74.8 C517.0,69.0 517.8,62.9 518.9,56.0 C520.0,49.1 521.1,41.7 522.2,36.2 C523.3,30.7 524.0,25.7 525.2,25.4 C526.4,25.1 527.5,30.7 529.0,34.8 C530.5,38.9 532.1,43.7 533.7,48.3 C535.3,52.9 536.5,57.2 537.7,60.4 C538.9,63.6 539.1,64.5 540.4,66.1 C541.7,67.7 542.7,67.3 545.0,69.4 C547.3,71.5 550.0,74.6 553.1,77.5 C556.2,80.4 559.1,83.1 562.5,85.6 C565.9,88.1 570.3,90.5 572.0,91.6" stroke="#2F78B8"/><path d="M418.0,84.2 C419.3,84.7 423.1,87.3 425.4,86.9 C427.7,86.5 428.9,83.3 430.8,82.2 C432.7,81.1 434.6,81.7 436.2,80.9 C437.8,80.1 438.3,80.8 439.5,77.5 C440.7,74.2 441.9,66.8 442.9,62.7 C443.9,58.7 443.4,56.9 444.9,55.0 C446.4,53.1 448.7,54.4 451.0,52.3 C453.3,50.2 455.6,44.4 457.7,43.6 C459.8,42.8 460.7,44.8 462.4,47.6 C464.1,50.4 465.7,55.8 467.0,59.0 C468.3,62.2 468.1,62.4 469.8,65.4 C471.5,68.4 474.1,72.7 476.5,75.5 C478.9,78.3 480.5,79.7 483.2,80.9 C485.9,82.1 489.4,81.7 491.3,82.2 C493.2,82.7 492.1,82.5 494.0,83.6 C495.9,84.7 499.0,86.7 502.1,88.3 C505.2,89.9 509.3,91.8 511.5,92.3 C513.7,92.8 512.5,93.4 514.2,91.0 C515.9,88.6 518.7,83.6 520.9,78.8 C523.1,74.0 525.0,68.2 526.3,64.1 C527.6,60.0 527.3,59.6 528.3,56.0 C529.3,52.4 530.3,47.8 531.6,44.2 C532.9,40.6 534.1,36.2 535.7,36.2 C537.3,36.2 539.0,41.1 540.4,44.2 C541.8,47.3 542.6,50.6 543.7,53.6 C544.8,56.6 545.2,58.4 546.4,61.0 C547.6,63.6 548.8,65.8 550.5,68.1 C552.2,70.3 553.4,71.2 555.8,73.5 C558.2,75.8 561.0,78.5 563.9,80.9 C566.8,83.3 570.5,85.8 572.0,86.9" stroke="#3BA85C"/></g><g stroke="#222" stroke-width="1.4" fill="none"><path d="M418,16 V102.2 H572.5"/><path d="M416.5,102.0 H418 M416.5,92.9 H418 M416.5,83.8 H418 M416.5,74.7 H418 M416.5,65.6 H418 M416.5,56.5 H418 M416.5,47.4 H418 M416.5,38.3 H418 M416.5,29.2 H418 M416.5,20.1 H418 M443.7,102.2 V103.8 M469.4,102.2 V103.8 M495.1,102.2 V103.8 M520.8,102.2 V103.8 M546.5,102.2 V103.8 M572.2,102.2 V103.8 " stroke-width="1.5"/></g><g font-family="Liberation Sans, sans-serif" font-size="11.7" fill="#111" text-anchor="middle"><text x="418.0" y="116.7">205</text><text x="469.4" y="116.7">206</text><text x="520.8" y="116.7">207</text><text x="414" y="103" text-anchor="end">0</text><text x="415.5" y="61" text-anchor="end">1×10<tspan font-size="6.5" dy="-4.5">-17</tspan></text></g><g stroke="#111" stroke-width="1.6" fill="none"><rect x="111.0" y="15.8" width="463.3" height="275.5"/><path d="M106.5,291.3 H111.0 M106.5,263.8 H111.0 M106.5,236.2 H111.0 M106.5,208.7 H111.0 M106.5,181.1 H111.0 M106.5,153.6 H111.0 M106.5,126.0 H111.0 M106.5,98.4 H111.0 M106.5,70.9 H111.0 M106.5,43.3 H111.0 M106.5,15.8 H111.0 M188.2,288 V293.7 M265.4,288 V293.7 M342.6,288 V293.7 M419.9,288 V293.7 M497.1,288 V293.7 " stroke-width="1.3"/></g><g font-family="Liberation Sans, sans-serif" font-size="15" fill="#111" text-anchor="end"><text x="99" y="296.3">0</text><text x="89.5" y="241.2">0.4×10</text><text x="102.9" y="236.0" font-size="9">-17</text><text x="89.5" y="186.1">0.8×10</text><text x="102.9" y="180.9" font-size="9">-17</text><text x="89.5" y="131.0">1.2×10</text><text x="102.9" y="125.8" font-size="9">-17</text><text x="89.5" y="75.9">1.6×10</text><text x="102.9" y="70.7" font-size="9">-17</text><text x="89.5" y="20.8">2.0×10</text><text x="102.9" y="15.6" font-size="9">-17</text></g><g font-family="Liberation Sans, sans-serif" font-size="15" fill="#111" text-anchor="middle"><text x="111.0" y="307.5">190</text><text x="188.2" y="307.5">195</text><text x="265.4" y="307.5">200</text><text x="342.6" y="307.5">205</text><text x="419.9" y="307.5">210</text><text x="497.1" y="307.5">215</text><text x="574.3" y="307.5">220</text></g><text font-family="Liberation Sans, sans-serif" font-size="18" font-weight="bold" fill="#111" x="337.5" y="330" text-anchor="middle">Wavelength [nm]</text><text font-family="Liberation Sans, sans-serif" font-size="17.9" font-weight="bold" fill="#111" transform="translate(31.8,158.5) rotate(-90)" text-anchor="middle">Cross-sections <tspan font-weight="normal">(<tspan font-style="italic">σ</tspan>)</tspan> [cm<tspan font-size="11" dy="-6">2</tspan><tspan dy="6">]</tspan></text><line x1="120.0" y1="28.9" x2="143.7" y2="28.9" stroke="#EFB635" stroke-width="1.9"/><text font-family="Liberation Sans, sans-serif" fill="#111" x="144.6" y="28"><tspan font-size="8">32</tspan><tspan font-size="12" y="32.7">SO</tspan><tspan font-size="8" y="36">2</tspan></text><line x1="186.0" y1="28.9" x2="209.7" y2="28.9" stroke="#E0303A" stroke-width="1.9"/><text font-family="Liberation Sans, sans-serif" fill="#111" x="210.6" y="28"><tspan font-size="8">33</tspan><tspan font-size="12" y="32.7">SO</tspan><tspan font-size="8" y="36">2</tspan></text><line x1="252.3" y1="28.9" x2="276.0" y2="28.9" stroke="#2F78B8" stroke-width="1.9"/><text font-family="Liberation Sans, sans-serif" fill="#111" x="276.9" y="28"><tspan font-size="8">34</tspan><tspan font-size="12" y="32.7">SO</tspan><tspan font-size="8" y="36">2</tspan></text><line x1="318.3" y1="28.9" x2="342.0" y2="28.9" stroke="#3BA85C" stroke-width="1.9"/><text font-family="Liberation Sans, sans-serif" fill="#111" x="342.9" y="28"><tspan font-size="8">36</tspan><tspan font-size="12" y="32.7">SO</tspan><tspan font-size="8" y="36">2</tspan></text><text font-family="Liberation Sans, sans-serif" font-size="20" fill="#111" x="126" y="52">A</text></svg></body></html>
